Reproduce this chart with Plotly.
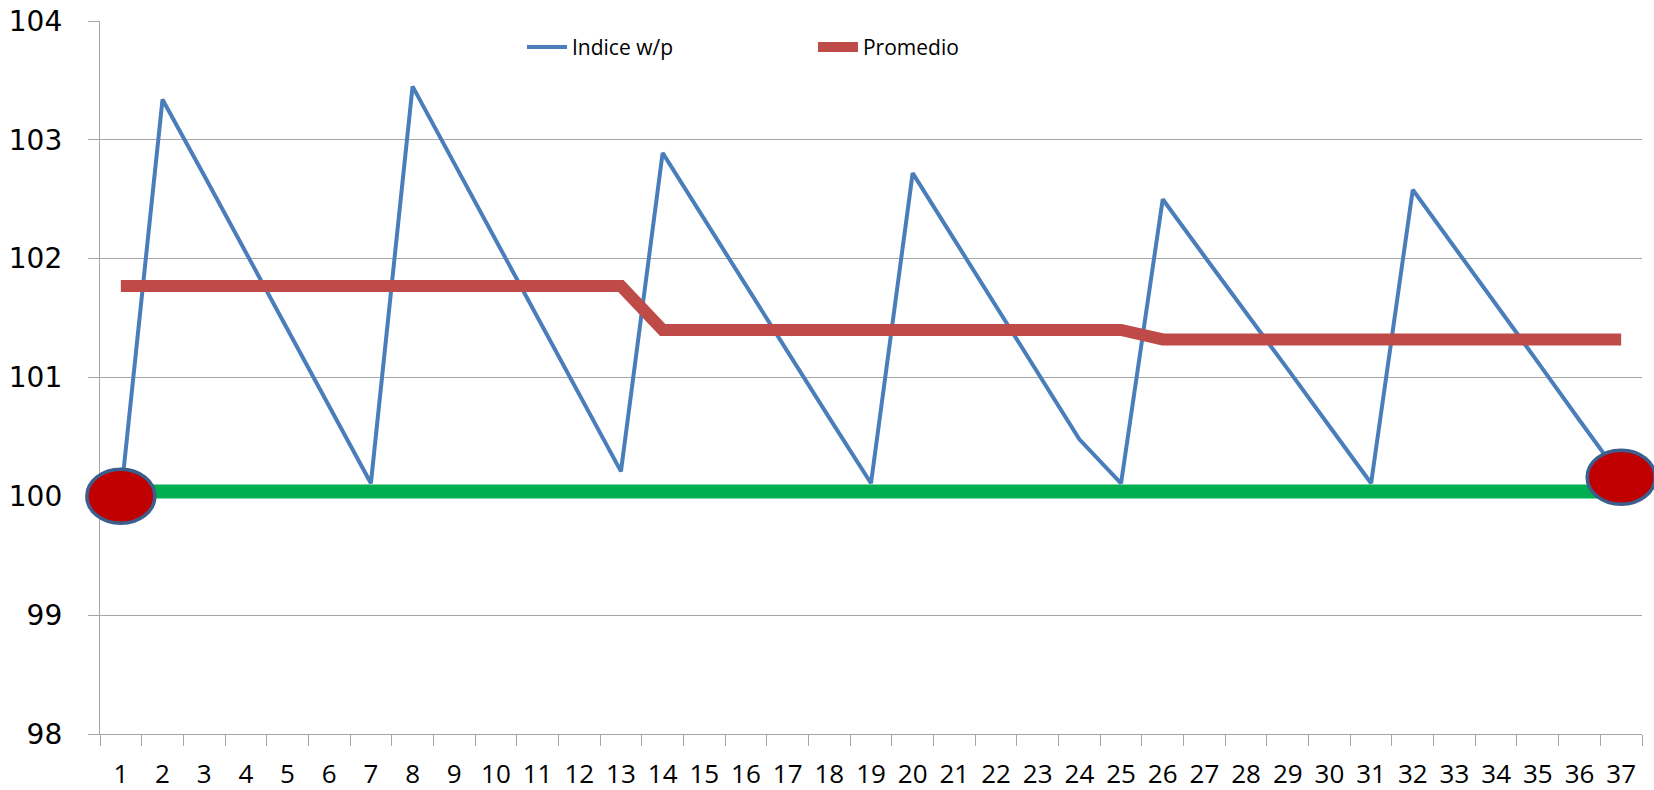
import plotly.graph_objects as go

# ---- data ----
periods = list(range(1, 38))
tick_labels = [str(p) for p in periods]

indice_wp = [100.00, 103.34, 102.70, 102.05, 101.41, 100.75, 100.11,
             103.45, 102.80, 102.16, 101.51, 100.86, 100.21,
             102.89, 102.33, 101.77, 101.21, 100.66, 100.11,
             102.72, 102.16, 101.60, 101.04, 100.48, 100.11,
             102.50, 102.02, 101.55, 101.07, 100.59, 100.11,
             102.58, 102.10, 101.61, 101.13, 100.64, 100.16]

promedio = [101.77] * 13 + [101.40] * 12 + [101.32] * 12

base_line = [100.04] * 37

marker_x = [1, 37]
marker_y = [100.00, 100.16]

# ---- layout geometry (pixels) ----
W, H = 1654, 790
ML, MR, MT, MB = 80, 0, 21, 56
AX_L, AX_R = 100, 1642          # visible category axis extent
X_MIN, X_MAX = 0.5, 37.5
area_w = W - ML - MR
px_per_unit = (AX_R - AX_L) / (X_MAX - X_MIN)
dom = [(AX_L - ML) / area_w, (AX_R - ML) / area_w]
x2_range = [X_MIN - (AX_L - ML) / px_per_unit, X_MAX + (W - MR - AX_R) / px_per_unit]

fig = go.Figure()

fig.add_trace(go.Scatter(
    x=periods, y=indice_wp, mode="lines", name="Indice w/p",
    line=dict(color="#4A7EBB", width=4),
))
fig.add_trace(go.Scatter(
    x=periods, y=promedio, mode="lines", name="Promedio",
    line=dict(color="#BE4B48", width=12),
))
fig.add_trace(go.Scatter(
    x=periods, y=base_line, mode="lines", name="Base",
    line=dict(color="#00B050", width=14), showlegend=False,
))
# helper (invisible) trace on a wider overlay subplot so the end ellipses are not clipped
fig.add_trace(go.Scatter(
    x=marker_x, y=marker_y, xaxis="x2", yaxis="y2", mode="markers",
    marker=dict(size=1, opacity=0), hoverinfo="skip", showlegend=False,
))

for mx, my in zip(marker_x, marker_y):
    fig.add_shape(
        type="circle", xref="x2", yref="y2",
        xsizemode="pixel", ysizemode="pixel",
        xanchor=mx, yanchor=my,
        x0=-34, x1=34, y0=-27, y1=27,
        fillcolor="#C00000", line=dict(color="#3B5E8C", width=3.5),
        layer="above",
    )

grid_col = "#A6A6A6"

fig.update_layout(
    width=W, height=H,
    margin=dict(l=ML, r=MR, t=MT, b=MB),
    paper_bgcolor="white", plot_bgcolor="rgba(0,0,0,0)",
    showlegend=True,
    legend=dict(
        orientation="h", x=0.2808, y=0.963, xanchor="left", yanchor="middle",
        bgcolor="rgba(0,0,0,0)", font=dict(family="Open Sans", size=21, color="#000"),
        entrywidth=236, itemwidth=40,
    ),
    xaxis=dict(
        domain=dom, anchor="y", automargin=False,
        range=[X_MIN, X_MAX], tickmode="array", tickvals=periods, ticktext=tick_labels,
        ticks="", showgrid=False, showline=True, linecolor=grid_col, linewidth=1.3,
        tickfont=dict(family="Open Sans", size=26, color="#000"),
        ticklabelstandoff=17, zeroline=False,
        minor=dict(tickmode="array", tickvals=[p - 0.5 for p in periods] + [37.5],
                   ticks="outside", ticklen=11, tickcolor=grid_col, tickwidth=1.3),
    ),
    yaxis=dict(
        domain=[0, 1], anchor="x", automargin=False,
        range=[98, 104], dtick=1, tick0=98, showgrid=True, gridcolor=grid_col, gridwidth=1.3,
        showline=True, linecolor=grid_col, linewidth=1.3, ticks="outside", ticklen=11,
        tickcolor=grid_col, tickwidth=1.3, zeroline=False,
        tickfont=dict(family="DejaVu Sans", size=28, color="#000"),
        ticklabelstandoff=20,
    ),
    xaxis2=dict(domain=[0, 1], anchor="y2", range=x2_range, visible=False,
                automargin=False, fixedrange=True),
    yaxis2=dict(domain=[0, 1], anchor="x2", range=[98, 104], visible=False,
                automargin=False, fixedrange=True),
)

fig.write_html(
    "out.html",
    config={"displayModeBar": False},
    post_script="document.body.style.margin='0px';document.body.style.overflow='hidden';",
)
